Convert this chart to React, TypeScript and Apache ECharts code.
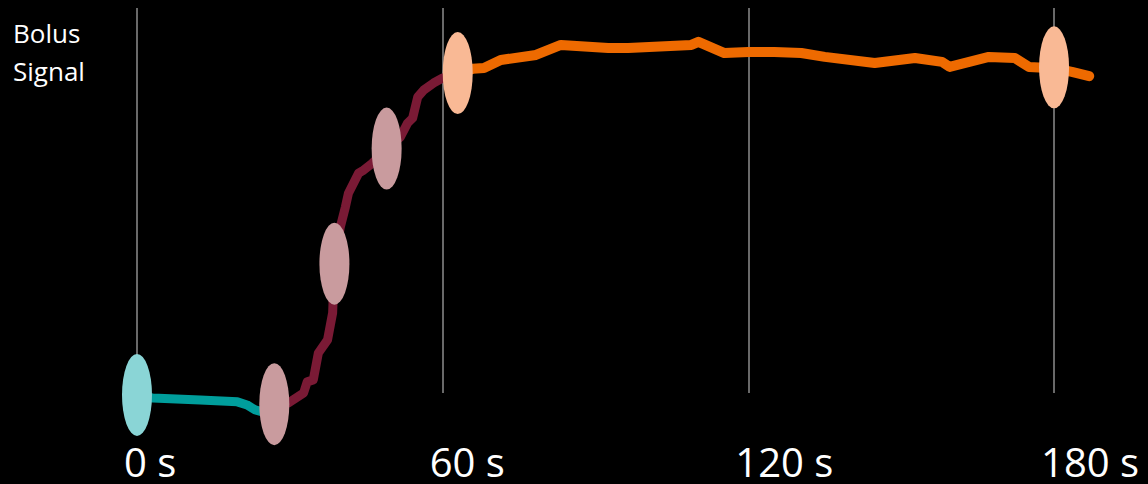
import React, { useEffect, useRef } from "react";
import * as echarts from "echarts";

// time in seconds, signal in arbitrary units (0-100)
const tickLabels = ["0 s", "60 s", "120 s", "180 s"];

const tealSeg: [number, number][] = [
  [0, -0.8], [3.1, -1.3], [12.4, -1.8], [19.7, -2.3], [21.6, -3.1], [23.2, -4.4], [24.6, -4.9],
];

const maroonSeg: [number, number][] = [
  [26.95, -2.9], [29.7, -2.6], [32.7, 0], [33.4, 2.9], [34.6, 3.4], [35.6, 10.4], [37.4, 13.8],
  [38.4, 20.8], [38.75, 33.6], [39.9, 43.1], [40.9, 48.3], [41.5, 51.9], [43.5, 57.1],
  [44.5, 57.9], [46.2, 59.7], [49.0, 63.5], [51.7, 66.5], [53.1, 70.1], [54.1, 71.4],
  [55.1, 76.9], [56.3, 78.7], [58.2, 80.5], [60.0, 81.8], [62.95, 83.1],
];

const orangeSeg: [number, number][] = [
  [62.95, 83.1], [65.9, 84.2], [68.1, 84.4], [71.4, 86.5], [78.3, 87.8], [83.2, 90.4],
  [92.5, 89.6], [96.4, 89.6], [108.8, 90.4], [110.2, 91.2], [115.3, 88.3], [120.0, 88.6],
  [125.1, 88.6], [130.4, 88.3], [135.0, 87.3], [144.8, 85.7], [152.7, 87.0], [158.0, 86.0],
  [159.5, 84.7], [167.2, 87.3], [172.3, 87.0], [175.1, 84.7], [179.0, 84.4], [180.0, 84.4],
  [183.5, 83.4], [186.9, 82.3],
];

const tealMarks: [number, number][] = [[0, -0.5]];
const pinkMarks: [number, number][] = [[26.95, -2.9], [38.75, 33.6], [49.0, 63.5]];
const peachMarks: [number, number][] = [[62.95, 83.1], [180, 84.6]];

const ELLIPSE = "path://M0,41A15,41,0,1,1,30,41A15,41,0,1,1,0,41Z";
const GRID = "#8c8c8c";

export default function App() {
  const ref = useRef<HTMLDivElement>(null);
  useEffect(() => {
    if (!ref.current) return;
    const chart = echarts.init(ref.current, null, { renderer: "svg" });
    const lineBase = (data: [number, number][], color: string, width: number) => ({
      type: "line",
      data,
      showSymbol: false,
      symbol: "none",
      clip: false,
      z: 2,
      lineStyle: { color, width, cap: "round", join: "round" },
    });
    const marks = (data: [number, number][], color: string) => ({
      type: "scatter",
      data,
      symbol: ELLIPSE,
      symbolSize: [30, 82],
      clip: false,
      z: 5,
      itemStyle: { color, opacity: 1 },
    });
    chart.setOption({
      animation: false,
      backgroundColor: "#000000",
      grid: { left: 137, right: 43, top: 8, bottom: 91 },
      xAxis: {
        type: "value",
        min: 0,
        max: 190,
        interval: 60,
        axisLine: { show: false },
        axisTick: { show: false },
        splitLine: {
          show: true,
          lineStyle: { color: [GRID, GRID, GRID, GRID, "rgba(0,0,0,0)"], width: 1.5 },
        },
        axisLabel: {
          color: "#ffffff",
          fontFamily: "Open Sans",
          fontSize: 40,
          lineHeight: 32,
          align: "left",
          margin: 52,
          padding: [0, 0, 0, -13],
          showMaxLabel: false,
          formatter: (v: number) => (v % 60 === 0 ? tickLabels[v / 60] ?? "" : ""),
        },
      },
      yAxis: {
        type: "value",
        min: 0,
        max: 100,
        show: false,
        splitLine: { show: false },
      },
      graphic: [
        {
          type: "text",
          left: 13,
          top: 14,
          style: {
            text: "Bolus\nSignal",
            fill: "#ffffff",
            font: "26px 'Open Sans'",
            lineHeight: 38,
          },
        },
      ],
      series: [
        lineBase(tealSeg, "#009e9c", 9),
        lineBase(maroonSeg, "#7a1a35", 9),
        lineBase(orangeSeg, "#ee6a00", 10),
        marks(tealMarks, "#8ad5d6"),
        marks(pinkMarks, "#c99b9e"),
        marks(peachMarks, "#f9b995"),
      ],
    });
    return () => chart.dispose();
  }, []);
  return (
    <div
      ref={ref}
      style={{ position: "fixed", left: 0, top: 0, width: 1148, height: 484, background: "#000" }}
    />
  );
}
